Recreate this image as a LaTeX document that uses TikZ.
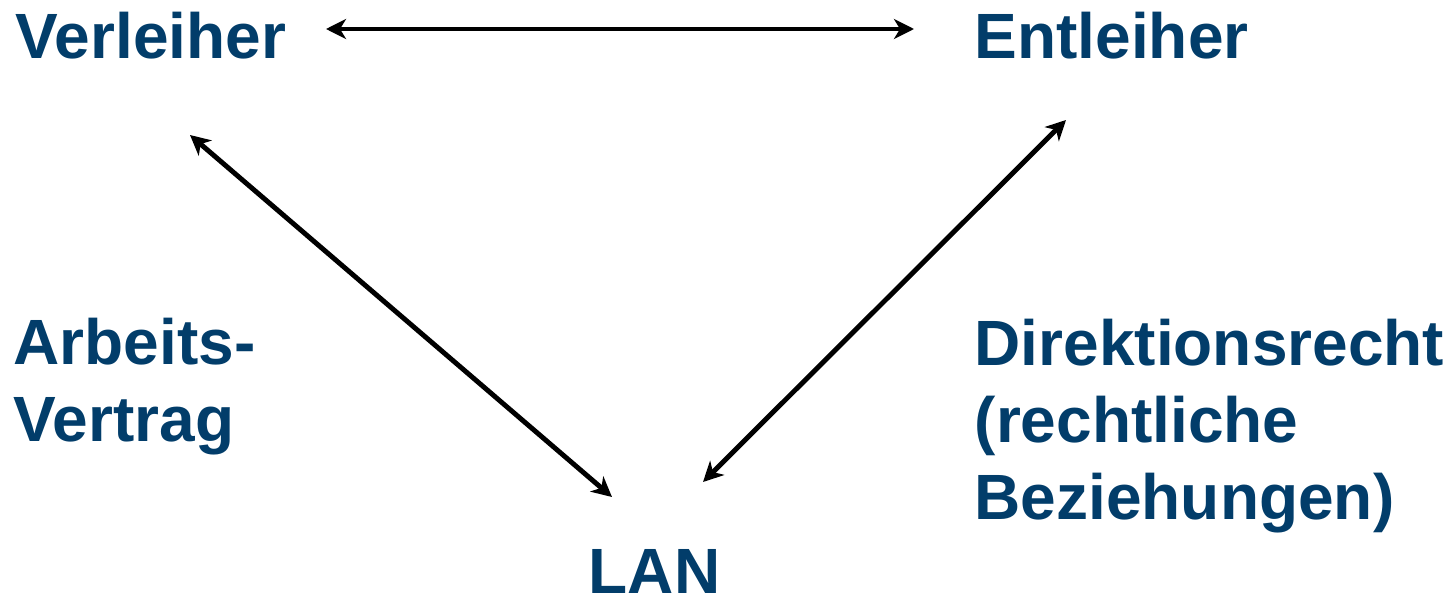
\documentclass[tikz,border=0pt]{standalone}
\usepackage{fontspec}
\setmainfont{Liberation Sans}
\usetikzlibrary{arrows.meta}
\definecolor{lanblue}{RGB}{2,61,106}
\tikzset{
  lbl/.style={text=lanblue, font=\fontsize{18.2}{21.9}\selectfont\bfseries, inner sep=0pt},
  rel/.style={draw, line width=1.4pt, {Stealth[length=2mm,width=2mm,inset=0.6mm]}-{Stealth[length=2mm,width=2mm,inset=0.6mm]}}
}
\begin{document}
\begin{tikzpicture}[x=0.01cm,y=-0.01cm]
      \useasboundingbox (0,0) rectangle (1448,597);

      \begin{scope}[every node/.style={lbl, anchor=base west}]
        \node (verl) at (15,58)  {Verleiher};
        \node (entl) at (974,58) {Entleiher};
        \node (lan)  at (588,593) {LAN};
      \end{scope}

      \begin{scope}[every node/.style={lbl, anchor=north west, align=left}]
        \node (vertrag) at (13,317)  {Arbeits-\\Vertrag};
        \node (recht)   at (974,318) {Direktionsrecht\\(rechtliche\\Beziehungen)};
      \end{scope}

      \coordinate (verlR) at (326,29);
      \coordinate (entlL) at (914,29);
      \coordinate (verlD) at (190,135);
      \coordinate (lanL)  at (612,497);
      \coordinate (entlD) at (1066,120);
      \coordinate (lanR)  at (703,482);

      \begin{scope}[every edge/.style={rel}]
        \path (verlR) edge (entlL);
        \path (verlD) edge (lanL);
        \path (entlD) edge (lanR);
      \end{scope}

    \end{tikzpicture}
\end{document}
